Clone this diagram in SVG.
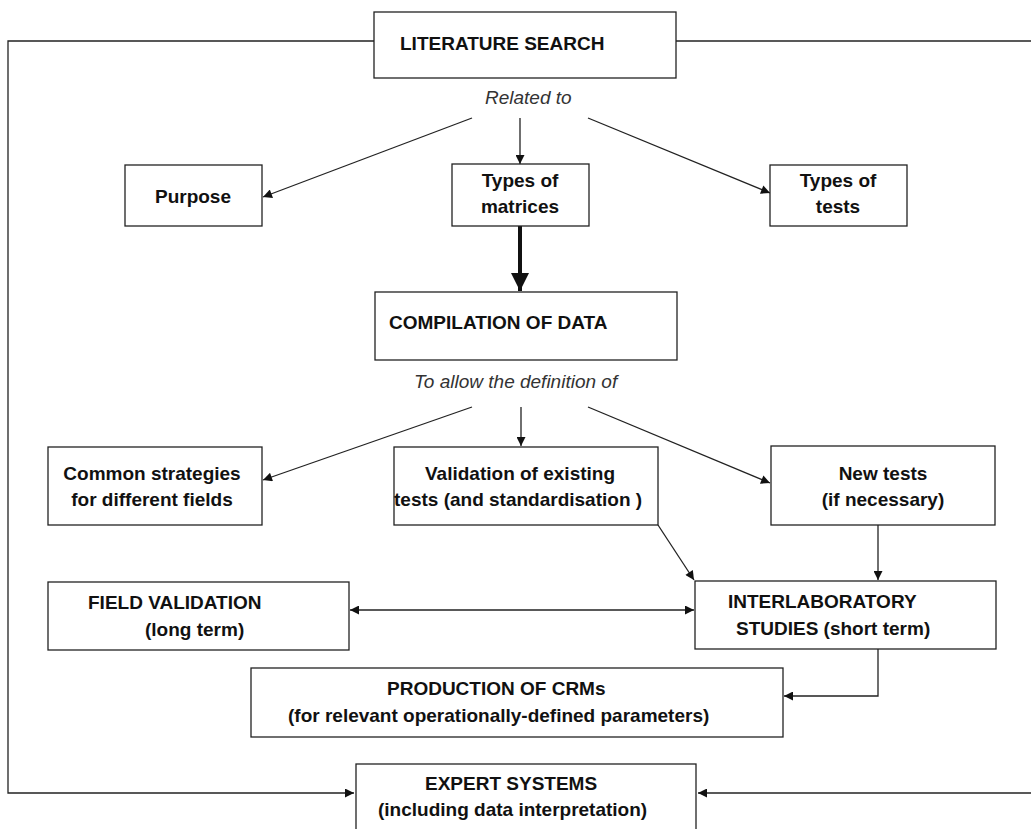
<svg xmlns="http://www.w3.org/2000/svg" width="1031" height="829" viewBox="0 0 1031 829">
<defs>
<style>
.box{fill:#fff;stroke:#222;stroke-width:1.3}
.ln{fill:none;stroke:#222;stroke-width:1.3}
.t{font-family:"Liberation Sans",Arial,sans-serif;font-weight:bold;font-size:19px;fill:#111}
.i{font-family:"Liberation Sans",Arial,sans-serif;font-style:italic;font-size:19px;fill:#333}
.c{text-anchor:middle}
</style>
<marker id="ah" viewBox="0 0 10 10" refX="10" refY="5" markerWidth="11" markerHeight="9" markerUnits="userSpaceOnUse" orient="auto-start-reverse">
<path d="M0,0 L10,5 L0,10 z" fill="#111"/>
</marker>
<marker id="big" viewBox="0 0 10 10" refX="10" refY="5" markerWidth="18" markerHeight="18" markerUnits="userSpaceOnUse" orient="auto">
<path d="M0,0 L10,5 L0,10 z" fill="#111"/>
</marker>
</defs>
<rect width="1031" height="829" fill="#fff"/>
<g id="connectors">
<polyline class="ln" points="374,41 8,41 8,793 354,793" marker-end="url(#ah)"/>
<polyline class="ln" points="676,41 1031,41"/>
<line class="ln" x1="1031" y1="793" x2="698" y2="793" marker-end="url(#ah)"/>
<line class="ln" x1="472" y1="118" x2="263" y2="197" marker-end="url(#ah)"/>
<line class="ln" x1="520" y1="118" x2="520" y2="164" marker-end="url(#ah)"/>
<line class="ln" x1="588" y1="118" x2="770" y2="193" marker-end="url(#ah)"/>
<line x1="520" y1="226" x2="520" y2="291" stroke="#111" stroke-width="4" marker-end="url(#big)"/>
<line class="ln" x1="472" y1="407" x2="263" y2="480" marker-end="url(#ah)"/>
<line class="ln" x1="521" y1="407" x2="521" y2="446" marker-end="url(#ah)"/>
<line class="ln" x1="588" y1="407" x2="770" y2="483" marker-end="url(#ah)"/>
<line class="ln" x1="658" y1="525" x2="694" y2="580" marker-end="url(#ah)"/>
<line class="ln" x1="878" y1="525" x2="878" y2="580" marker-end="url(#ah)"/>
<line class="ln" x1="350" y1="610" x2="694" y2="610" marker-start="url(#ah)" marker-end="url(#ah)"/>
<polyline class="ln" points="878,649 878,696 784,696" marker-end="url(#ah)"/>
</g>
<g id="literature-search">
<rect class="box" x="374" y="12" width="302" height="66"/>
<text class="t" x="400" y="50">LITERATURE SEARCH</text>
<text class="i" x="485" y="104">Related to</text>
</g>
<g id="purpose">
<rect class="box" x="125" y="165" width="137" height="61"/>
<text class="t c" x="193" y="203">Purpose</text>
</g>
<g id="types-of-matrices">
<rect class="box" x="452" y="164" width="137" height="62"/>
<text class="t c" x="520" y="187">Types of</text>
<text class="t c" x="520" y="213">matrices</text>
</g>
<g id="types-of-tests">
<rect class="box" x="770" y="165" width="137" height="61"/>
<text class="t c" x="838" y="187">Types of</text>
<text class="t c" x="838" y="213">tests</text>
</g>
<g id="compilation-of-data">
<rect class="box" x="375" y="292" width="302" height="68"/>
<text class="t" x="389" y="329">COMPILATION OF DATA</text>
<text class="i" x="414" y="388">To allow the definition of</text>
</g>
<g id="common-strategies">
<rect class="box" x="48" y="447" width="214" height="78"/>
<text class="t c" x="152" y="480">Common strategies</text>
<text class="t c" x="152" y="506">for different fields</text>
</g>
<g id="validation">
<rect class="box" x="394" y="447" width="264" height="78"/>
<text class="t" x="425" y="480">Validation of existing</text>
<text class="t" x="394" y="506">tests (and standardisation )</text>
</g>
<g id="new-tests">
<rect class="box" x="771" y="446" width="224" height="79"/>
<text class="t c" x="883" y="480">New tests</text>
<text class="t c" x="883" y="506">(if necessary)</text>
</g>
<g id="field-validation">
<rect class="box" x="48" y="582" width="301" height="68"/>
<text class="t" x="88" y="609">FIELD VALIDATION</text>
<text class="t" x="145" y="636">(long term)</text>
</g>
<g id="interlaboratory-studies">
<rect class="box" x="695" y="581" width="301" height="68"/>
<text class="t" x="728" y="608">INTERLABORATORY</text>
<text class="t" x="736" y="635">STUDIES (short term)</text>
</g>
<g id="production-of-crms">
<rect class="box" x="251" y="668" width="532" height="69"/>
<text class="t" x="387" y="695">PRODUCTION OF CRMs</text>
<text class="t" x="288" y="722">(for relevant operationally-defined parameters)</text>
</g>
<g id="expert-systems">
<rect class="box" x="356" y="764" width="340" height="80"/>
<text class="t" x="425" y="790">EXPERT SYSTEMS</text>
<text class="t" x="378" y="816">(including data interpretation)</text>
</g>
</svg>
